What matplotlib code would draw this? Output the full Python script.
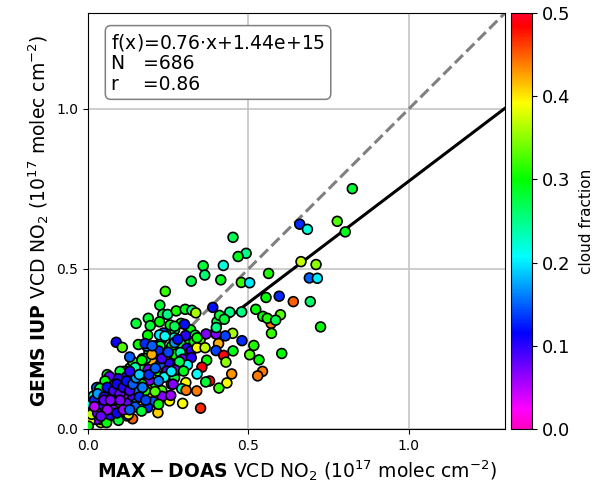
import numpy as np
import matplotlib
matplotlib.use("Agg")
import matplotlib.pyplot as plt

# values, 1e17 molec cm-2
max_doas = [
    .03,.05,.07,.09,.11,.13,.15,.17,.19,.21,
    .23,.25,.27,.29,.12,.14,.16,.18,.20,.22,
    .24,.26,.28,.30,.32,.06,.08,.10,.04,.02,
    .17,.19,.21,.23,.25,.27,.29,.31,.33,.35,
    .12,.14,.16,.18,.20,.22,.24,.26,.13,.15,
    .10,.17,.19,.21,.23,.25,.27,.11,.09,.07,
    .05,.03,.08,.06,.04,.02,.12,.16,.20,.24,
    .14,.18,.22,.26,.28,.10,.08,.06,.04,.02,
    .824,.777,.802,.660,.684,.452,.493,.468,.359,.422,
    .364,.322,.414,.478,.504,.563,.664,.711,.690,.715,
    .241,.224,.555,.596,.640,.693,.725,.389,.523,.479,
    .442,.571,.545,.559,.600,.585,.572,.604,.517,.504,
    .533,.452,.480,.451,.428,.399,.368,.407,.399,.423,
    .430,.370,.355,.340,.448,.544,.529,.379,.367,.433,
    .408,.339,.351,.295,.218,.139,.305,.292,.306,.254,
    .150,.188,.194,.233,.248,.223,.275,.303,.324,.336,
    .256,.270,.301,.235,.223,.186,.157,.183,.178,.225,
    .269,.304,.334,.331,.261,.290,.220,.308,.322,.340,
    .365,.402,.410,.400,.425,.340,.270,.288,.251,.295,
    .322,.310,.285,.246,.168,.199,.188,.225,.147,.088,
    .107,.130,.246,.272,.298,.238,.191,.265,.231,.258,
    .178,.209,.202,.150,.147,.186,.167,.220,.121,.095,
    .058,.069,.067,.027,.017,.043,.095,.121,.144,.114,
    .069,.089,.027,.053,.074,.110,.027,.037,.011,.150,
    .168,.131,.084,.053,.037,.110,.079,.100,.126,.006,
    .011,.001,
    .02,.03,.05,.06,.08,.09,.10,.11,.12,.13,
    .14,.15,.16,.17,.18,.13,.16,.12,.10,.08,
    .04,.06,.03,.05,.09,.07,.02,.04,.11,.13,
    .19,.21,.23,.25,.27,.20,.24,.28,.22,.26,
]
gems_iup = [
    .13,.12,.16,.15,.18,.19,.20,.22,.24,.26,
    .28,.30,.31,.33,.05,.08,.10,.12,.14,.16,
    .19,.22,.25,.28,.31,.03,.06,.04,.02,.05,
    .19,.21,.19,.21,.23,.22,.24,.27,.26,.28,
    .18,.17,.15,.17,.16,.18,.17,.14,.14,.12,
    .10,.13,.11,.14,.12,.10,.16,.08,.11,.14,
    .09,.06,.05,.12,.03,.08,.06,.09,.21,.23,
    .21,.22,.24,.20,.19,.18,.13,.17,.07,.03,
    .751,.649,.616,.640,.624,.599,.549,.539,.510,.511,
    .481,.462,.466,.458,.457,.486,.523,.514,.472,.471,
    .430,.387,.411,.415,.398,.398,.319,.380,.374,.366,
    .365,.330,.352,.346,.357,.340,.299,.236,.261,.232,
    .216,.244,.276,.299,.291,.297,.297,.267,.245,.230,
    .209,.215,.193,.172,.172,.180,.166,.150,.147,.144,
    .128,.119,.065,.080,.051,.032,.145,.126,.121,.088,
    .330,.346,.323,.358,.358,.335,.369,.374,.371,.363,
    .325,.321,.327,.300,.294,.293,.264,.259,.267,.259,
    .285,.292,.293,.273,.259,.264,.244,.252,.244,.254,
    .254,.335,.355,.317,.343,.285,.233,.239,.207,.218,
    .223,.200,.210,.233,.215,.233,.186,.202,.192,.271,
    .255,.225,.181,.184,.181,.162,.152,.140,.102,.105,
    .119,.117,.085,.096,.069,.067,.056,.077,.041,.027,
    .020,.044,.164,.129,.103,.101,.157,.164,.152,.136,
    .116,.103,.065,.079,.075,.075,.030,.051,.077,.124,
    .140,.103,.140,.150,.127,.103,.093,.067,.046,.025,
    .046,.009,
    .09,.11,.10,.13,.12,.14,.11,.13,.15,.12,
    .14,.16,.10,.13,.09,.18,.17,.08,.09,.06,
    .07,.06,.05,.09,.05,.09,.07,.04,.06,.06,
    .17,.19,.22,.24,.27,.26,.29,.28,.15,.18,
]
cloud_frac = [
    .30,.27,.29,.33,.28,.30,.32,.26,.29,.31,
    .28,.30,.27,.29,.33,.36,.40,.31,.44,.35,
    .32,.38,.29,.26,.30,.30,.28,.34,.36,.30,
    .27,.30,.33,.24,.31,.42,.22,.30,.28,.33,
    .30,.27,.33,.28,.38,.31,.29,.44,.25,.30,
    .28,.35,.41,.30,.33,.24,.28,.32,.29,.26,
    .30,.38,.33,.27,.36,.29,.31,.40,.42,.28,
    .31,.26,.37,.30,.24,.28,.35,.29,.33,.38,
    .28,.33,.29,.13,.22,.27,.25,.29,.28,.22,
    .26,.27,.29,.32,.20,.31,.37,.35,.15,.20,
    .32,.28,.30,.13,.45,.26,.30,.12,.30,.25,
    .25,.44,.30,.31,.33,.27,.32,.30,.31,.33,
    .30,.29,.13,.36,.14,.07,.07,.42,.14,.49,
    .35,.30,.49,.21,.43,.44,.44,.49,.28,.39,
    .32,.44,.47,.39,.41,.45,.39,.24,.44,.39,
    .28,.28,.28,.28,.25,.30,.31,.29,.25,.36,
    .30,.27,.12,.14,.20,.30,.30,.17,.13,.28,
    .22,.10,.27,.29,.30,.27,.13,.10,.10,.39,
    .37,.28,.28,.25,.28,.30,.30,.24,.10,.08,
    .10,.21,.27,.40,.30,.42,.07,.15,.24,.11,
    .33,.15,.08,.07,.29,.21,.07,.07,.07,.06,
    .31,.33,.15,.17,.15,.13,.28,.30,.14,.28,
    .30,.10,.08,.15,.22,.11,.10,.09,.09,.07,
    .10,.10,.06,.05,.10,.08,.07,.05,.22,.16,
    .30,.09,.27,.30,.28,.06,.08,.30,.38,.38,
    .37,.30,
    .13,.17,.10,.12,.09,.11,.08,.10,.12,.09,
    .15,.17,.13,.16,.14,.10,.19,.08,.07,.07,
    .09,.06,.07,.08,.11,.07,.05,.08,.06,.15,
    .13,.15,.09,.14,.17,.15,.21,.12,.16,.20,
]

slope = 0.76
intercept = 0.0144
x_ticks = [0.0, 0.5, 1.0]
cbar_ticks = [0.0, 0.1, 0.2, 0.3, 0.4, 0.5]
lim = 1.3

fig = plt.figure(figsize=(6.08, 4.84), dpi=100)
ax = fig.add_axes([88/608, 1-429/484, 417/608, 416/484])
cax = fig.add_axes([511/608, 1-429/484, 21/608, 416/484])

xx = np.array([0, lim])
ax.plot(xx, xx, color='gray', ls='--', lw=2.2, zorder=2)
ax.plot(xx, slope*xx + intercept, color='k', lw=2.2, zorder=2)
sc = ax.scatter(max_doas, gems_iup, c=cloud_frac, cmap='gist_rainbow_r', vmin=0, vmax=0.5,
                s=50, edgecolors='k', linewidths=1.2, zorder=3)

ax.set_xlim(0, lim)
ax.set_ylim(0, lim)
ax.set_xticks(x_ticks)
ax.set_yticks(x_ticks)
ax.tick_params(labelsize=10)
ax.grid(True, color='#c0c0c0', lw=1.1)
ax.set_axisbelow(True)
ax.set_xlabel(r'$\mathbf{MAX-DOAS}$ VCD NO$_2$ (10$^{17}$ molec cm$^{-2}$)', fontsize=13.5, labelpad=4)
ax.set_ylabel(r'$\mathbf{GEMS\ IUP}$ VCD NO$_2$ (10$^{17}$ molec cm$^{-2}$)', fontsize=13.5, labelpad=4)

txt = 'f(x)=0.76$\\cdot$x+1.44e+15\nN   =686\nr    =0.86'
ax.text(0.055, 0.955, txt, transform=ax.transAxes, fontsize=13.5, va='top', ha='left', linespacing=1.1,
        bbox=dict(boxstyle='round,pad=0.3', fc='white', ec='gray', lw=1.1), zorder=5)

cb = fig.colorbar(sc, cax=cax, ticks=cbar_ticks)
cb.ax.tick_params(labelsize=13)
cb.set_label('cloud fraction', fontsize=11, labelpad=6)

plt.savefig('out.png', dpi=100)
